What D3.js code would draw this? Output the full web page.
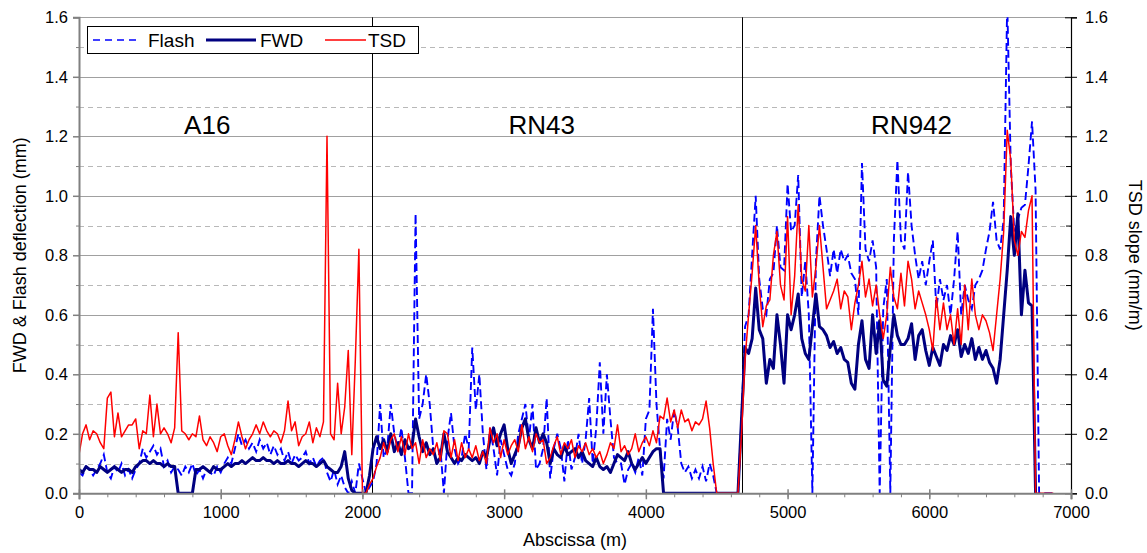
<!DOCTYPE html>
<html><head><meta charset="utf-8">
<script src="https://cdn.jsdelivr.net/npm/d3@7"></script>
<style>
body{margin:0;background:#fff}
text{font-family:Arial,"Liberation Sans",sans-serif;fill:#000}
</style>
</head><body><svg id="c" width="1147" height="553"></svg>
<script>
// ---------- DATA ----------
const abscissa = d3.range(0, 7000, 25); // m, sampling step of the survey

const fwd = [
0.08,0.07,0.09,0.08,0.08,0.07,0.09,0.08,0.07,0.08,0.09,0.08,0.07,0.08,0.08,0.07,0.09,0.1,0.11,0.11,
0.1,0.11,0.1,0.1,0.09,0.1,0.09,0.09,0,0,0,0,0,0.08,0.08,0.09,0.08,0.07,0.09,0.08,
0.08,0.09,0.1,0.09,0.1,0.1,0.11,0.1,0.11,0.12,0.11,0.11,0.12,0.11,0.11,0.1,0.11,0.1,0.1,0.11,
0.1,0.1,0.09,0.1,0.11,0.1,0.1,0.09,0.1,0.11,0.09,0.08,0.07,0.07,0.09,0.14,0.05,0.01,0,0,
0,0,0.06,0.15,0.19,0.15,0.18,0.14,0.2,0.14,0.17,0.13,0.18,0.15,0.16,0.25,0.19,0.14,0.17,0.13,
0.15,0.1,0.12,0.2,0.14,0.12,0.1,0.12,0.11,0.13,0.12,0.11,0.12,0.1,0.14,0.12,0.18,0.22,0.16,0.2,
0.23,0.15,0.1,0.13,0.16,0.22,0.25,0.18,0.15,0.22,0.17,0.2,0.17,0.1,0.15,0.13,0.12,0.16,0.13,0.14,
0.15,0.12,0.14,0.11,0.1,0.09,0.12,0.09,0.08,0.09,0.07,0.1,0.13,0.12,0.11,0.14,0.1,0.08,0.1,0.12,
0.1,0.12,0.14,0.15,0.15,0,0,0,0,0,0,0,0,0,0,0,0,0,0,0,
0,0,0,0,0,0,0,0.25,0.49,0.47,0.52,0.69,0.55,0.52,0.37,0.45,0.42,0.6,0.5,0.37,
0.6,0.55,0.6,0.67,0.52,0.47,0.45,0.56,0.67,0.56,0.55,0.53,0.49,0.51,0.47,0.49,0.45,0.44,0.37,0.35,
0.5,0.58,0.45,0.42,0.6,0.47,0.58,0.38,0.36,0.49,0.6,0.53,0.5,0.5,0.52,0.57,0.45,0.53,0.55,0.48,
0.43,0.49,0.46,0.43,0.5,0.48,0.53,0.5,0.55,0.46,0.5,0.47,0.52,0.45,0.49,0.45,0.48,0.44,0.42,0.37,
0.45,0.6,0.75,0.93,0.8,0.94,0.6,0.75,0.64,0.63,0,null,null,null,null,null,null,null,null,null
];

const tsd = [
0.13,0.2,0.23,0.18,0.21,0.2,0.17,0.15,0.32,0.34,0.19,0.27,0.19,0.21,0.23,0.23,0.25,0.15,0.21,0.2,
0.33,0.19,0.3,0.2,0.22,0.2,0.17,0.22,0.54,0.21,0.2,0.18,0.2,0.19,0.26,0.18,0.16,0.19,0.17,0.14,
0.19,0.2,0.16,0.13,0.18,0.24,0.19,0.15,0.18,0.2,0.23,0.2,0.24,0.21,0.19,0.21,0.2,0.17,0.21,0.31,
0.21,0.24,0.16,0.19,0.2,0.24,0.17,0.22,0.19,0.24,1.2,0.2,0.18,0.37,0.2,0.29,0.48,0.13,0.45,0.82,
0,0,0.03,0.05,0.09,0.12,0.17,0.13,0.18,0.2,0.14,0.19,0.13,0.2,0.15,0.17,0.1,0.18,0.12,0.15,
0.13,0.17,0.11,0.21,0.2,0.12,0.18,0.11,0.17,0.12,0.15,0.12,0.16,0.11,0.14,0.1,0.22,0.17,0.2,0.12,
0.18,0.13,0.16,0.18,0.14,0.23,0.15,0.19,0.14,0.2,0.17,0.18,0.1,0.12,0.16,0.19,0.13,0.17,0.15,0.18,
0.12,0.16,0.14,0.17,0.13,0.15,0.12,0.14,0.1,0.13,0.17,0.15,0.23,0.14,0.16,0.13,0.15,0.2,0.14,0.17,
0.19,0.16,0.21,0.17,0.26,0.25,0.32,0.24,0.28,0.22,0.28,0.24,0.25,0.21,0.24,0.23,0.25,0.31,0.22,0.1,
0,0,0,0,0,0,0,0.2,0.45,0.6,0.74,0.9,0.7,0.56,0.63,0.65,0.8,0.88,0.7,0.65,
0.93,0.6,0.73,0.97,0.72,0.68,0.9,0.66,0.76,0.9,0.76,0.62,0.65,0.68,0.72,0.62,0.68,0.66,0.55,0.64,
0.7,0.78,0.66,0.72,0.63,0.7,0.6,0.52,0.6,0.76,0.66,0.62,0.74,0.63,0.78,0.72,0.62,0.68,0.64,0.6,
0.55,0.48,0.66,0.55,0.64,0.55,0.6,0.5,0.62,0.5,0.7,0.55,0.72,0.6,0.55,0.6,0.58,0.54,0.48,0.6,
0.72,0.88,1.22,1.12,0.85,0.8,0.88,0.86,0.95,1.0,0,0,0,0,0,0,null,null,null,null
];

const flash = [
0.07,0.06,0.09,0.08,0.06,0.08,0.1,0.13,0.07,0.05,0.09,0.07,0.1,0.06,0.08,0.05,0.08,0.1,0.15,0.12,
0.14,0.16,0.13,0.15,0.09,0.11,0.07,0.09,0.08,0.06,0.09,0.07,0.1,0.06,0.08,0.05,0.08,0.07,0.06,0.09,
0.07,0.1,0.12,0.1,0.15,0.2,0.16,0.18,0.15,0.17,0.14,0.18,0.15,0.17,0.13,0.16,0.13,0.15,0.11,0.14,
0.1,0.13,0.11,0.12,0.14,0.1,0.12,0.09,0.11,0.12,0.07,0.04,0.08,0.03,0.06,0.02,0,0.04,0,0.1,
0.05,0,0.02,0.04,0.1,0.3,0.12,0.15,0.3,0.2,0.15,0.22,0.12,0,0,0.94,0.25,0.3,0.4,0.3,
0.15,0.1,0.15,0,0.18,0.27,0.15,0.1,0.12,0.2,0.15,0.49,0.28,0.4,0.2,0.08,0.22,0.15,0.06,0.18,
0.13,0.08,0.06,0.1,0.2,0.25,0.3,0.18,0.3,0.08,0.1,0.15,0.32,0.05,0.15,0.2,0.15,0.04,0.18,0.08,
0.12,0.2,0.1,0.18,0.32,0.1,0.22,0.44,0.2,0.4,0.25,0.12,0.1,0.1,0.03,0.08,0.1,0.07,0.12,0.06,
0.25,0.28,0.62,0.3,0.15,0.05,0.25,0.18,0.28,0.22,0.1,0.07,0.09,0.05,0.08,0.05,0.09,0.04,0.1,0.06,
0,0,0,0,0,0,0,0.25,0.56,0.6,0.8,1.0,0.72,0.62,0.6,0.72,0.74,0.9,0.76,0.75,
1.04,0.88,0.9,1.07,0.66,0.78,0.6,0,0.78,1.0,0.9,0.82,0.73,0.82,0.74,0.82,0.78,0.8,0.74,0.72,
0.6,1.11,0.82,0.78,0.85,0.76,0,0.62,0.72,0,0.85,1.12,0.85,0.82,1.08,0.9,0.8,0.72,0.78,0.7,
0.78,0.85,0.62,0.72,0.65,0.7,0.6,0.72,0.88,0.6,0.7,0.65,0.62,0.7,0.72,0.75,0.82,0.88,0.98,0.85,
0.82,0.92,1.65,1.1,0.88,0.92,0.96,0.97,1.1,1.25,1.02,0,0,0,0,0,null,null,null,null
];

const sectionNames = ["A16", "RN43", "RN942"];
const sectionLabelAt = [905, 3265, 5875];   // abscissa (m) of label centres
const sectionBounds = [2070, 4675];          // abscissa (m) of section limits
const xTicks = [0,1000,2000,3000,4000,5000,6000,7000];
const yTicks = [0,0.2,0.4,0.6,0.8,1.0,1.2,1.4,1.6];
const seriesNames = ["Flash", "FWD", "TSD"];

// ---------- LAYOUT ----------
const L = 79, R = 1071, T = 17.3, B = 493.3;
const svg = d3.select("#c");
const x = d3.scaleLinear().domain([0, 7000]).range([L, R]);
const y = d3.scaleLinear().domain([0, 1.6]).range([B, T]);
const yR = d3.scaleLinear().domain([0, 1.6]).range([B, T]);
const fmt = d3.format(".1f");

// gridlines
const gridVals = d3.range(1, 17).map(i => i / 10);
svg.append("g").selectAll("line").data(gridVals).join("line")
  .attr("x1", L).attr("x2", R)
  .attr("y1", d => Math.round(y(d)) + 0.5).attr("y2", d => Math.round(y(d)) + 0.5)
  .attr("stroke", (d, i) => (i % 2 === 1) ? "#a0a0a0" : "#b8b8b8")
  .attr("stroke-width", 1)
  .attr("stroke-dasharray", (d, i) => (i % 2 === 1) ? null : "5,4");

// section boundaries
svg.append("g").selectAll("line").data(sectionBounds).join("line")
  .attr("x1", d => Math.round(x(d)) + 0.5).attr("x2", d => Math.round(x(d)) + 0.5)
  .attr("y1", T).attr("y2", B)
  .attr("stroke", "#000").attr("stroke-width", 1);

// section labels
svg.append("g").selectAll("text").data(sectionNames).join("text")
  .attr("x", (d, i) => x(sectionLabelAt[i])).attr("y", 134)
  .attr("text-anchor", "middle").attr("font-size", 26).text(d => d);

// series
svg.append("clipPath").attr("id", "clip").append("rect")
  .attr("x", L).attr("y", T).attr("width", R - L).attr("height", B - T);
const g = svg.append("g").attr("clip-path", "url(#clip)");
const lineL = d3.line().defined(d => d[1] != null).x(d => x(d[0])).y(d => y(d[1]));
const lineR = d3.line().defined(d => d[1] != null).x(d => x(d[0])).y(d => yR(d[1]));
g.append("path").datum(abscissa.map((a, i) => [a, flash[i]]))
  .attr("d", lineL).attr("fill", "none").attr("stroke", "#0000ff")
  .attr("stroke-width", 1.9).attr("stroke-dasharray", "8,4");
g.append("path").datum(abscissa.map((a, i) => [a, fwd[i]]))
  .attr("d", lineL).attr("fill", "none").attr("stroke", "#000080")
  .attr("stroke-width", 3).attr("stroke-linejoin", "round");
g.append("path").datum(abscissa.map((a, i) => [a, tsd[i]]))
  .attr("d", lineR).attr("fill", "none").attr("stroke", "#ff0000")
  .attr("stroke-width", 1.5).attr("stroke-linejoin", "round");

// left axis
const ax = svg.append("g").attr("transform", `translate(${L},0)`);
ax.append("g").call(d3.axisLeft(y).tickValues(d3.range(1, 16, 2).map(i => i / 10)).tickSize(3).tickFormat(""))
  .call(s => s.select(".domain").remove())
  .call(s => s.selectAll("line").attr("stroke", "#808080"));
ax.append("g").call(d3.axisLeft(y).tickValues(yTicks).tickSize(6).tickPadding(5).tickFormat(fmt))
  .call(s => s.select(".domain").attr("stroke", "#808080").attr("stroke-width", 2))
  .call(s => s.selectAll("line").attr("stroke", "#808080").attr("stroke-width", 1.5))
  .call(s => s.selectAll("text").attr("font-size", 16.5).attr("font-family", "Arial, 'Liberation Sans', sans-serif").attr("fill", "#000"));

// right axis
const ar = svg.append("g").attr("transform", `translate(${R},0)`);
ar.append("g").call(d3.axisRight(yR).tickValues(d3.range(1, 16, 2).map(i => i / 10)).tickSize(5).tickFormat(""))
  .call(s => s.select(".domain").remove())
  .call(s => s.selectAll("line").attr("x1", -5).attr("x2", 0).attr("stroke", "#000"));
ar.append("g").call(d3.axisRight(yR).tickValues(yTicks).tickSize(6).tickPadding(8).tickFormat(fmt))
  .call(s => s.select(".domain").attr("stroke", "#000").attr("stroke-width", 1.2))
  .call(s => s.selectAll("line").attr("x1", -6).attr("stroke", "#000"))
  .call(s => s.selectAll("text").attr("font-size", 16.5).attr("font-family", "Arial, 'Liberation Sans', sans-serif").attr("fill", "#000"));

// bottom axis
const ab = svg.append("g").attr("transform", `translate(0,${B})`);
ab.append("g").call(d3.axisBottom(x).tickValues(d3.range(0, 7001, 200)).tickSize(4).tickFormat(""))
  .call(s => s.select(".domain").remove())
  .call(s => s.selectAll("line").attr("stroke", "#808080"));
ab.append("g").call(d3.axisBottom(x).tickValues(xTicks).tickSize(6).tickPadding(7).tickFormat(d3.format("d")))
  .call(s => s.select(".domain").attr("stroke", "#808080").attr("stroke-width", 2))
  .call(s => s.selectAll("line").attr("y1", -4).attr("stroke", "#808080").attr("stroke-width", 1.5))
  .call(s => s.selectAll("text").attr("font-size", 16.5).attr("font-family", "Arial, 'Liberation Sans', sans-serif").attr("fill", "#000"));

// axis titles
svg.append("text").attr("x", (L + R) / 2).attr("y", 546).attr("text-anchor", "middle")
  .attr("font-size", 18).text("Abscissa (m)");
svg.append("text").attr("transform", `translate(26,${(T + B) / 2}) rotate(-90)`)
  .attr("text-anchor", "middle").attr("font-size", 18).text("FWD & Flash deflection (mm)");
svg.append("text").attr("transform", `translate(1129,${(T + B) / 2}) rotate(90)`)
  .attr("text-anchor", "middle").attr("font-size", 18).text("TSD slope (mm/m)");

// legend
const lg = svg.append("g");
lg.append("rect").attr("x", 87.5).attr("y", 26.5).attr("width", 331).attr("height", 27)
  .attr("fill", "#fff").attr("stroke", "#000").attr("stroke-width", 1);
const legendItems = [
  {name: seriesNames[0], x1: 93, x2: 139, tx: 148, color: "#0000ff", w: 1.6, dash: "7,5"},
  {name: seriesNames[1], x1: 206, x2: 256, tx: 260, color: "#000080", w: 3, dash: null},
  {name: seriesNames[2], x1: 325, x2: 366, tx: 368, color: "#ff0000", w: 1.5, dash: null}
];
legendItems.forEach(it => {
  lg.append("line").attr("x1", it.x1).attr("x2", it.x2).attr("y1", 40).attr("y2", 40)
    .attr("stroke", it.color).attr("stroke-width", it.w).attr("stroke-dasharray", it.dash);
  lg.append("text").attr("x", it.tx).attr("y", 47).attr("font-size", 19).text(it.name);
});
</script>
</body></html>
